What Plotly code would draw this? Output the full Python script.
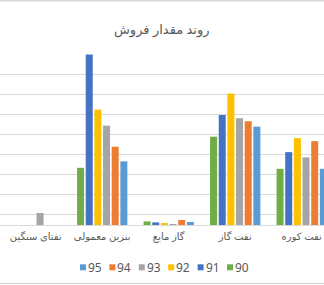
import plotly.graph_objects as go

categories = ["نفتای سنگین", "بنزین معمولی", "گاز مایع", "نفت گاز", "نفت کوره"]
years = ["90", "91", "92", "93", "94", "95"]
v90 = [0, 2.85, 0.18, 4.40, 2.80]
v91 = [0, 8.50, 0.13, 5.48, 3.63]
v92 = [0, 5.75, 0.07, 6.55, 4.33]
v93 = [0.60, 4.95, 0.05, 5.32, 3.37]
v94 = [0, 3.90, 0.25, 5.17, 4.18]
v95 = [0, 3.17, 0.15, 4.90, 2.80]
series = [v90, v91, v92, v93, v94, v95]
colors = ["#70AD47", "#4472C4", "#FFC000", "#A5A5A5", "#ED7D31", "#5B9BD5"]

W, H = 324, 285
TOP, BOTTOM = 54, 225
PH = BOTTOM - TOP

def py(p):
    return (BOTTOM - p) / PH

fig = go.Figure()
for name, vals, c in zip(years, series, colors):
    fig.add_trace(go.Bar(x=categories, y=vals, name=name, marker=dict(color=c, line=dict(width=0))))

font_fam = "Noto Sans, DejaVu Sans, sans-serif"
txt = "#595959"

# custom legend (order 95 ... 90)
annotations = []
shapes = []
for i, (name, c) in enumerate(reversed(list(zip(years, colors)))):
    x0 = 80 + i * 29.4
    shapes.append(dict(type="rect", xref="paper", yref="paper",
                       x0=x0 / W, x1=(x0 + 6) / W, y0=py(270.3), y1=py(264.3),
                       fillcolor=c, line=dict(width=0)))
    annotations.append(dict(text=name, xref="paper", yref="paper", x=(x0 + 6) / W, y=py(267.3),
                            xanchor="left", yanchor="middle", showarrow=False,
                            font=dict(size=12, color=txt, family=font_fam)))

# chart title as centered annotation
annotations.append(dict(text="روند مقدار فروش", xref="paper", yref="paper", x=161.5 / W, y=py(29),
                        xanchor="center", yanchor="middle", showarrow=False,
                        font=dict(size=13, color=txt, family=font_fam)))

# chart border (top & bottom edges visible)
for yy in (0.7, 283.5):
    shapes.append(dict(type="line", xref="paper", yref="paper", x0=-0.01, x1=1.01,
                       y0=py(yy), y1=py(yy), line=dict(color="#D9D9D9", width=1.5)))

fig.update_layout(
    width=W, height=H,
    margin=dict(l=0, r=0, t=TOP, b=H - BOTTOM, pad=0),
    paper_bgcolor="white", plot_bgcolor="white",
    showlegend=False,
    barmode="group", bargap=0.219, bargroupgap=0.19,
    font=dict(family=font_fam, color=txt),
    annotations=annotations, shapes=shapes,
)
fig.update_xaxes(type="category", range=[-0.537, 4.335], showgrid=False, showline=True,
                 linecolor="#D9D9D9", linewidth=1, ticks="", ticklabelstandoff=2,
                 tickfont=dict(size=10, color=txt))
fig.update_yaxes(range=[0, 8.52], tick0=0.5, dtick=1, showticklabels=False, showgrid=True,
                 gridcolor="#D9D9D9", gridwidth=1, zeroline=False, showline=False)

fig.write_html("out.html")
